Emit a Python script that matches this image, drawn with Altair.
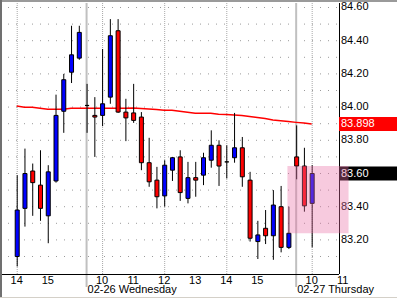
import altair as alt
import pandas as pd

FONT = "Liberation Sans"

# 15-minute bars, index 0 = 02-25 14:00 ... 38 = 02-27 10:00
opens = [83.10, 83.39, 83.615, 83.53, 83.345, 83.555, 83.975, 84.21, 84.295, 84.01,
         83.95, 83.95, 84.06, 84.46, 83.97, 83.965, 83.94, 83.665, 83.56, 83.465,
         83.62, 83.70, 83.45, 83.575, 83.59, 83.68, 83.77, 83.67, 83.695, 83.755,
         83.56, 83.19, 83.27, 83.225, 83.40, 83.155, 83.70, 83.645, 83.42]
highs = [83.59, 83.75, 83.66, 83.74, 83.65, 84.075, 84.20, 84.49, 84.49, 84.14,
         84.06, 84.35, 84.53, 84.53, 84.05, 84.14, 83.97, 83.815, 83.64, 83.68,
         83.70, 83.74, 83.67, 83.67, 83.725, 83.86, 83.80, 83.77, 83.965, 83.82,
         83.61, 83.315, 83.38, 83.50, 83.525, 83.40, 83.89, 83.755, 83.65]
lows = [83.04, 83.28, 83.345, 83.315, 83.18, 83.545, 83.845, 84.145, 84.285, 83.845,
        83.70, 83.885, 84.02, 83.965, 83.795, 83.905, 83.62, 83.52, 83.39, 83.40,
        83.555, 83.435, 83.42, 83.46, 83.53, 83.635, 83.525, 83.57, 83.665, 83.52,
        83.19, 83.085, 83.175, 83.08, 83.125, 83.145, 83.565, 83.37, 83.155]
closes = [83.38, 83.60, 83.545, 83.39, 83.61, 83.95, 84.165, 84.315, 84.45, 84.01,
          83.94, 84.02, 84.43, 83.97, 83.935, 83.92, 83.665, 83.55, 83.46, 83.65,
          83.695, 83.485, 83.575, 83.56, 83.695, 83.77, 83.645, 83.67, 83.755, 83.58,
          83.21, 83.23, 83.225, 83.41, 83.155, 83.24, 83.645, 83.405, 83.60]
ma = [84.007, 83.999, 83.999, 83.993, 83.987, 83.987, 83.987, 83.993, 83.993, 83.993,
      83.993, 83.993, 83.993, 83.993, 83.993, 83.995, 83.992, 83.989, 83.986, 83.981,
      83.981, 83.975, 83.969, 83.963, 83.963, 83.963, 83.957, 83.955, 83.952, 83.949,
      83.943, 83.937, 83.931, 83.922, 83.918, 83.913, 83.908, 83.904, 83.898]

hour_labels = ["14", "15", "10", "11", "12", "13", "14", "15", "10", "11"]
hour_pos = [0, 4, 11, 15, 19, 23, 27, 31, 38, 42]
date_labels = ["02-26 Wednesday", "02-27 Thursday"]
date_pos = [9, 36]
grid_hours = [0, 11, 19, 27, 38]
y_ticks = [83.2, 83.4, 83.6, 83.8, 84.0, 84.2, 84.4, 84.6]
grid_levels = [83.1, 83.2, 83.3, 83.4, 83.5, 83.6, 83.7, 83.8, 83.9, 84.0,
               84.1, 84.2, 84.3, 84.4, 84.5, 84.6]
hl_x = [34.875, 42.75]
hl_y = [83.24, 83.645]

n = len(opens)
df = pd.DataFrame({
    "i": list(range(n)), "open": opens, "high": highs, "low": lows,
    "close": closes, "ma": ma,
})
df["dir"] = ["up" if c > o else ("down" if c < o else "flat") for o, c in zip(opens, closes)]

xs = alt.Scale(domain=[-1.25, 40.875], nice=False, zero=False)
ys = alt.Scale(domain=[82.9946, 84.6271], nice=False, zero=False)

one = pd.DataFrame({"d": [0]})

hgrid = alt.Chart(pd.DataFrame({"lvl": grid_levels})).mark_rule(
    strokeDash=[1, 7], strokeDashOffset=6, color="#9a9a9a", strokeWidth=1
).encode(y=alt.Y("lvl:Q", scale=ys, axis=None))

vgrid = alt.Chart(pd.DataFrame({"g": grid_hours})).mark_rule(
    strokeDash=[1, 1], color="#a8a8a8", strokeWidth=1, xOffset=0.5
).encode(x=alt.X("g:Q", scale=xs, axis=None))

seps = alt.Chart(pd.DataFrame({"p": date_pos})).mark_rule(
    color="#c0c0c0", strokeWidth=2
).encode(x=alt.X("p:Q", scale=xs, axis=None), y=alt.value(0), y2=alt.value(284))

ma_line = alt.Chart(df).mark_line(color="#ff0000", strokeWidth=1.5).encode(
    x=alt.X("i:Q", scale=xs, axis=None), y=alt.Y("ma:Q", scale=ys, axis=None)
)

wicks = alt.Chart(df).mark_rule(color="black", strokeWidth=1, xOffset=0.5).encode(
    x=alt.X("i:Q", scale=xs, axis=None),
    y=alt.Y("low:Q", scale=ys, axis=None),
    y2="high:Q",
)

bodies = alt.Chart(df).mark_bar(size=4, xOffset=0.5, stroke="black", strokeWidth=1).encode(
    x=alt.X("i:Q", scale=xs, axis=None),
    y=alt.Y("open:Q", scale=ys, axis=None),
    y2="close:Q",
    color=alt.Color("dir:N", scale=alt.Scale(domain=["up", "down", "flat"],
                                             range=["#0000ff", "#ff0000", "#000000"]),
                    legend=None),
)

# axis lines
y_domain = alt.Chart(one).mark_rule(color="black", strokeWidth=1).encode(
    x=alt.value(337.5), y=alt.value(0), y2=alt.value(271))
x_domain = alt.Chart(one).mark_rule(color="black", strokeWidth=1).encode(
    x=alt.value(0), x2=alt.value(337), y=alt.value(271.5))

ylabels = alt.Chart(pd.DataFrame({"v": y_ticks, "t": [f"{v:.2f}" for v in y_ticks]})).mark_text(
    align="left", baseline="middle", font=FONT, fontSize=11, color="black"
).encode(x=alt.value(339), y=alt.Y("v:Q", scale=ys, axis=None), text="t:N")

hours = alt.Chart(pd.DataFrame({"p": hour_pos, "t": hour_labels})).mark_text(
    align="center", baseline="alphabetic", font=FONT, fontSize=11, color="black"
).encode(x=alt.X("p:Q", scale=xs, axis=None), y=alt.value(281), text="t:N")

dates = alt.Chart(pd.DataFrame({"p": date_pos, "t": date_labels})).mark_text(
    align="left", baseline="alphabetic", font=FONT, fontSize=11, color="black", dx=1
).encode(x=alt.X("p:Q", scale=xs, axis=None), y=alt.value(290), text="t:N")

tag_ma_df = pd.DataFrame({"v": [ma[-1]], "t": [f"{ma[-1]:.3f}"]})
tag_last_df = pd.DataFrame({"v": [closes[-1]], "t": [f"{closes[-1]:.2f}"]})

def tag(data, fill):
    box = alt.Chart(data).mark_rect(color=fill, yOffset=-7, y2Offset=7).encode(
        x=alt.value(337), x2=alt.value(395),
        y=alt.Y("v:Q", scale=ys, axis=None), y2="v:Q",
    )
    txt = alt.Chart(data).mark_text(
        align="left", baseline="middle", font=FONT, fontSize=11, color="white"
    ).encode(x=alt.value(339), y=alt.Y("v:Q", scale=ys, axis=None), text="t:N")
    return box, txt

ma_box, ma_txt = tag(tag_ma_df, "#ff0000")
last_box, last_txt = tag(tag_last_df, "#000000")

highlight = alt.Chart(pd.DataFrame({"x1": [hl_x[0]], "x2": [hl_x[1]],
                                    "y1": [hl_y[0]], "y2": [hl_y[1]]})).mark_rect(
    color="#e96ea4", opacity=0.365
).encode(x=alt.X("x1:Q", scale=xs, axis=None), x2="x2:Q",
         y=alt.Y("y1:Q", scale=ys, axis=None), y2="y2:Q")

border_top = alt.Chart(one).mark_rule(color="#9a9a9a", strokeWidth=2).encode(
    x=alt.value(-2), x2=alt.value(395), y=alt.value(-2))
border_left = alt.Chart(one).mark_rule(color="#707070", strokeWidth=2).encode(
    x=alt.value(-1), y=alt.value(-3), y2=alt.value(295))
border_bottom = alt.Chart(one).mark_rule(color="#d4d0c8", strokeWidth=1).encode(
    x=alt.value(-2), x2=alt.value(395), y=alt.value(294.5))

chart = alt.layer(
    hgrid, vgrid, seps, ma_line, wicks, bodies, y_domain, x_domain, ylabels,
    hours, dates, ma_box, ma_txt, last_box, last_txt, highlight,
    border_top, border_left, border_bottom,
).properties(
    width=337, height=271,
    padding={"left": 2, "top": 3, "right": 58, "bottom": 24},
    autosize=alt.AutoSizeParams(type="none"),
    background="white",
).configure_view(strokeWidth=0)

chart.save("out.html", embed_options={"renderer": "svg", "actions": False})
